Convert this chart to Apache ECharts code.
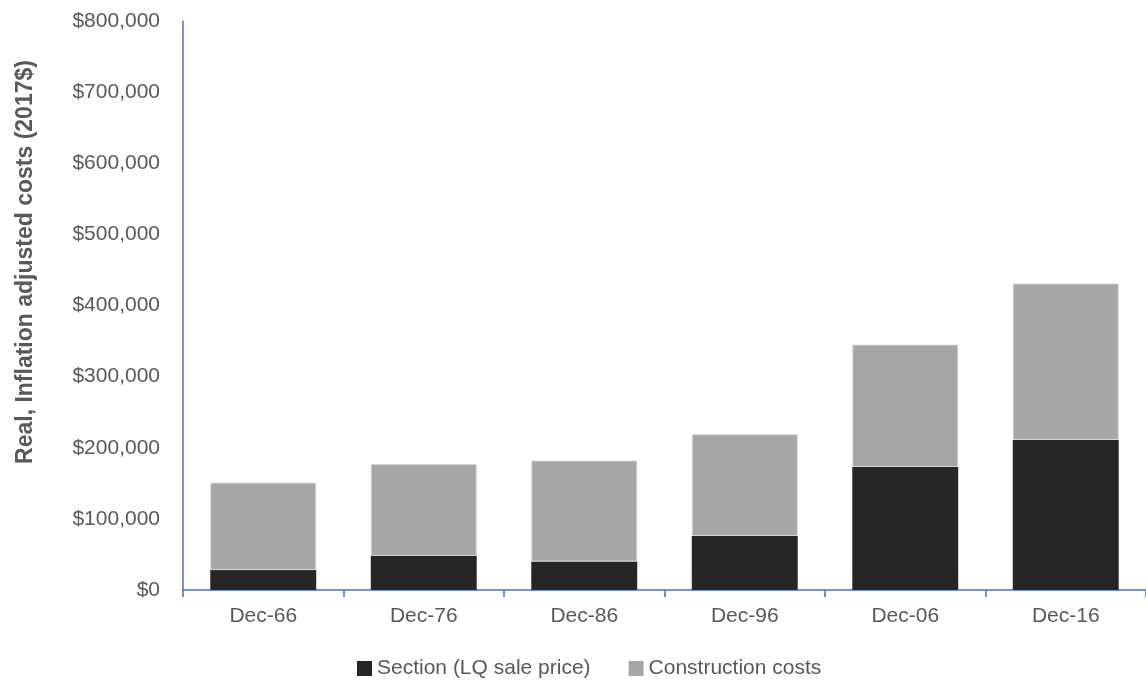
<!DOCTYPE html>
<html>
<head>
<meta charset="utf-8">
<script src="https://cdn.jsdelivr.net/npm/echarts@6/dist/echarts.min.js"></script>
<style>
  html, body { margin: 0; padding: 0; background: #fff; }
  #cost-chart { width: 1146px; height: 688px; }
</style>
</head>
<body>
<div id="cost-chart"></div>
<script>
// 数据
const categories = ["Dec-66", "Dec-76", "Dec-86", "Dec-96", "Dec-06", "Dec-16"];
const sectionPrice = [28000, 48000, 40000, 76000, 173000, 211000];
const constructionCosts = [123000, 129000, 142000, 143000, 172000, 220000];
const yTicks = [0, 100000, 200000, 300000, 400000, 500000, 600000, 700000, 800000];

const axisBlue = "#4472c4";
const textGrey = "#595959";
const font = "Liberation Sans";

let myChart = echarts.init(document.getElementById("cost-chart"));
myChart.setOption({
  animation: false,
  grid: {
    left: 183,
    right: -5,
    top: 21,
    bottom: 98,
  },
  legend: {
    left: 352,
    top: 653,
    icon: "rect",
    itemWidth: 15,
    itemHeight: 15,
    itemGap: 38,
    itemStyle: { borderWidth: 0 },
    textStyle: { color: textGrey, fontSize: 21, fontFamily: font },
    data: ["Section (LQ sale price)", "Construction costs"],
  },
  graphic: [
    {
      type: "text",
      x: 26,
      y: 262,
      rotation: Math.PI / 2,
      style: {
        text: "Real, Inflation adjusted costs (2017$)",
        fill: textGrey,
        font: "bold 23px 'Liberation Sans'",
        textAlign: "center",
        textVerticalAlign: "middle",
      },
    },
  ],
  xAxis: {
    type: "category",
    data: categories,
    axisLine: { lineStyle: { color: axisBlue, width: 1.5 } },
    axisTick: { show: true, length: 7, lineStyle: { color: axisBlue, width: 1.5 } },
    axisLabel: { color: textGrey, fontSize: 21, fontFamily: font, margin: 16 },
  },
  yAxis: {
    type: "value",
    min: yTicks[0],
    max: yTicks[yTicks.length - 1],
    interval: yTicks[1] - yTicks[0],
    splitLine: { show: false },
    axisLine: { show: true, lineStyle: { color: axisBlue, width: 1.5 } },
    axisTick: { show: false },
    axisLabel: {
      color: textGrey,
      fontSize: 21,
      fontFamily: font,
      margin: 23,
      formatter: (v) => "$" + v.toLocaleString("en-US"),
    },
  },
  series: [
    {
      name: "Section (LQ sale price)",
      type: "bar",
      stack: "total",
      barWidth: "66%",
      itemStyle: { color: "#262626" },
      data: sectionPrice,
    },
    {
      name: "Construction costs",
      type: "bar",
      stack: "total",
      barWidth: "66%",
      itemStyle: { color: "#a6a6a6", borderColor: "#d4d4d4", borderWidth: 1 },
      data: constructionCosts,
    },
  ],
});
</script>
</body>
</html>
